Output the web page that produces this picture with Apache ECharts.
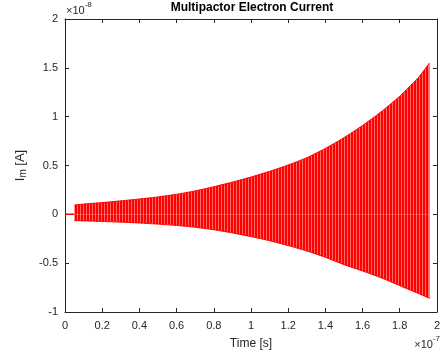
<!DOCTYPE html>
<html>
<head>
<meta charset="utf-8">
<script src="https://cdn.jsdelivr.net/npm/echarts@6/dist/echarts.min.js"></script>
<style>
  html, body { margin: 0; padding: 0; background: #fff; }
  #chart { width: 443px; height: 355px; }
</style>
</head>
<body>
<div id="chart"></div>
<script>
// time in units of 1e-7 s, current in units of 1e-8 A
const leadTimes = [0, 0.05]
const leadValues = [0, 0]

const envTimes = [0.05, 0.1, 0.2, 0.3, 0.4, 0.5, 0.6, 0.7, 0.8, 0.9, 1.0, 1.1, 1.2, 1.3, 1.4, 1.5, 1.6, 1.7, 1.8, 1.9, 1.96]
const upperPeaks = [0.095, 0.105, 0.12, 0.138, 0.157, 0.178, 0.205, 0.24, 0.283, 0.33, 0.382, 0.44, 0.505, 0.58, 0.675, 0.785, 0.91, 1.05, 1.21, 1.4, 1.55]
const lowerPeaks = [-0.065, -0.067, -0.073, -0.08, -0.089, -0.1, -0.114, -0.132, -0.158, -0.19, -0.228, -0.27, -0.32, -0.375, -0.44, -0.515, -0.58, -0.65, -0.73, -0.81, -0.86]

const xTicks = [0, 0.2, 0.4, 0.6, 0.8, 1, 1.2, 1.4, 1.6, 1.8, 2]
const yTicks = [-1, -0.5, 0, 0.5, 1, 1.5, 2]

const font = 'Liberation Sans, Arial, Helvetica, sans-serif'
const ink = '#262626'

// striped red fill, like the dense oscillation lines
const stripe = document.createElement('canvas')
stripe.width = 3
stripe.height = 1
const sctx = stripe.getContext('2d')
sctx.fillStyle = '#ff0000'
sctx.fillRect(0, 0, 2, 1)
sctx.fillStyle = '#ff6a6a'
sctx.fillRect(2, 0, 1, 1)

const zip = (xs, ys) => xs.map((x, i) => [x, ys[i]])

const chart = echarts.init(document.getElementById('chart'), null, { renderer: 'canvas' })

const axisBase = {
  type: 'value',
  axisLine: { show: true, onZero: false, lineStyle: { color: ink, width: 1 } },
  axisTick: { show: true, inside: true, length: 4, lineStyle: { color: ink } },
  splitLine: { show: false },
}

const option = {
  animation: false,
  backgroundColor: '#fff',
  title: {
    text: 'Multipactor Electron Current',
    left: 252,
    top: 2,
    padding: 0,
    textAlign: 'center',
    textStyle: { fontFamily: font, fontSize: 12, fontWeight: 'bold', color: '#000' },
  },
  grid: { left: 65, right: 5, top: 19, bottom: 40 },
  xAxis: [
    {
      ...axisBase,
      min: xTicks[0],
      max: xTicks[xTicks.length - 1],
      interval: 0.2,
      position: 'bottom',
      axisLabel: {
        color: ink, fontFamily: font, fontSize: 11, margin: 8,
        formatter: (v) => String(parseFloat(v.toFixed(1))),
      },
      name: 'Time [s]',
      nameLocation: 'middle',
      nameGap: 26,
      nameTextStyle: { color: ink, fontFamily: font, fontSize: 12 },
    },
    {
      ...axisBase,
      min: xTicks[0],
      max: xTicks[xTicks.length - 1],
      interval: 0.2,
      position: 'top',
      axisLabel: { show: false },
    },
  ],
  yAxis: [
    {
      ...axisBase,
      min: yTicks[0],
      max: yTicks[yTicks.length - 1],
      interval: 0.5,
      position: 'left',
      axisLabel: { color: ink, fontFamily: font, fontSize: 11, margin: 7 },
      name: '{n|I}{s|m}{n| [A]}',
      nameLocation: 'middle',
      nameRotate: 90,
      nameGap: 29,
      nameTextStyle: {
        rich: {
          n: { color: ink, fontFamily: font, fontSize: 13 },
          s: { color: ink, fontFamily: font, fontSize: 10, verticalAlign: 'bottom', padding: [6, 0, 0, 0] },
        },
      },
    },
    {
      ...axisBase,
      min: yTicks[0],
      max: yTicks[yTicks.length - 1],
      interval: 0.5,
      position: 'right',
      axisLabel: { show: false },
    },
  ],
  graphic: [
    {
      type: 'text',
      left: 66,
      top: 1,
      style: {
        text: '{a|×10}{b|-8}',
        rich: {
          a: { fontFamily: font, fontSize: 11, fill: ink, padding: [4, 0, 0, 0] },
          b: { fontFamily: font, fontSize: 8, fill: ink, verticalAlign: 'top' },
        },
      },
    },
    {
      type: 'text',
      right: 3,
      top: 335,
      style: {
        text: '{a|×10}{b|-7}',
        rich: {
          a: { fontFamily: font, fontSize: 11, fill: ink, padding: [4, 0, 0, 0] },
          b: { fontFamily: font, fontSize: 8, fill: ink, verticalAlign: 'top' },
        },
      },
    },
  ],
  series: [
    {
      name: 'lead',
      type: 'line',
      data: zip(leadTimes, leadValues),
      symbol: 'none',
      lineStyle: { color: '#ff0000', width: 1.5 },
    },
    {
      name: 'upper',
      type: 'line',
      data: zip(envTimes, upperPeaks),
      symbol: 'none',
      smooth: 0.2,
      lineStyle: { color: '#ff0000', width: 1 },
      areaStyle: { origin: 0, color: { image: stripe, repeat: 'repeat' }, opacity: 1 },
    },
    {
      name: 'lower',
      type: 'line',
      data: zip(envTimes, lowerPeaks),
      symbol: 'none',
      smooth: 0.2,
      lineStyle: { color: '#ff0000', width: 1 },
      areaStyle: { origin: 0, color: { image: stripe, repeat: 'repeat' }, opacity: 1 },
    },
  ],
}

chart.setOption(option)
</script>
</body>
</html>
